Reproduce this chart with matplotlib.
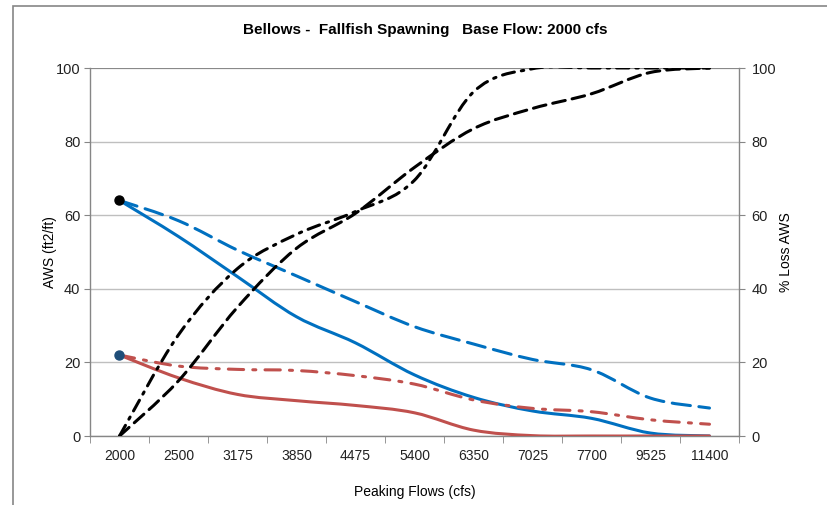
import numpy as np
import matplotlib
matplotlib.use('Agg')
import matplotlib.pyplot as plt
from matplotlib.path import Path
from matplotlib.patches import PathPatch, Rectangle

plt.rcParams['font.family'] = ['Liberation Sans', 'DejaVu Sans']

# %% data
flows = ['2000', '2500', '3175', '3850', '4475', '5400', '6350', '7025', '7700', '9525', '11400']
aws_blue = [64, 54.2, 43.3, 32.4, 25.3, 16.6, 10.5, 6.8, 4.8, 0.8, 0]
aws_blue_dash = [64, 58.5, 50.5, 43.5, 36.5, 29.7, 25, 20.8, 18, 10.3, 7.6]
aws_red = [22, 15.8, 11.3, 9.6, 8.3, 6.3, 1.6, 0.1, 0, 0, 0]
aws_red_dashdot = [22, 19, 18.1, 17.8, 16.4, 14.1, 9.8, 7.5, 6.6, 4.4, 3.2]
loss_dash = [0, 15, 35, 51, 60.5, 73, 83.5, 89, 93, 98.8, 100]
loss_dashdot = [0, 27.5, 45.5, 54.8, 61, 69.5, 93.5, 99.8, 100, 100, 100]


def smooth_path(xs, ys):
    # Excel-like smoothed line: cubic Bezier through the points (Catmull-Rom tangents)
    pts = np.column_stack([xs, ys]).astype(float)
    verts = [pts[0]]
    codes = [Path.MOVETO]
    n = len(pts)
    for i in range(n - 1):
        p0 = pts[i - 1] if i > 0 else pts[i]
        p1 = pts[i]
        p2 = pts[i + 1]
        p3 = pts[i + 2] if i + 2 < n else pts[i + 1]
        c1 = p1 + (p2 - p0) / 6.0
        c2 = p2 - (p3 - p1) / 6.0
        verts += [c1, c2, p2]
        codes += [Path.CURVE4] * 3
    return Path(verts, codes)


def add_line(ax, ys, color, ls, lw=2.2, z=3):
    x = np.arange(len(ys))
    patch = PathPatch(smooth_path(x, ys), facecolor='none', edgecolor=color,
                      linewidth=lw, linestyle=ls, capstyle='round', zorder=z)
    ax.add_patch(patch)


blue = '#0070C0'
red = '#C0504D'
grid_c = '#BFBFBF'
spine_c = '#868686'

fig = plt.figure(figsize=(8.28, 5.05), dpi=100)
fig.patches.append(Rectangle((13 / 828, -0.1), 2, 1.1 - 6 / 505, transform=fig.transFigure,
                             facecolor='none', edgecolor=spine_c, linewidth=1.2))

ax = fig.add_axes([90 / 828, 1 - 436 / 505, 649 / 828, 368 / 505])
ax2 = ax.twinx()

ax.set_xlim(-0.5, len(flows) - 0.5)
ax.set_ylim(0, 100)
ax2.set_ylim(0, 100)
ax.set_yticks(np.arange(0, 101, 20))
ax2.set_yticks(np.arange(0, 101, 20))
ax.set_xticks(np.arange(len(flows)))
ax.set_xticklabels(flows)
ax.set_xticks(np.arange(len(flows) + 1) - 0.5, minor=True)

ax.yaxis.grid(True, color=grid_c, linewidth=1.0)
ax.set_axisbelow(True)
ax.tick_params(axis='x', which='major', length=0, pad=9, labelsize=10, colors='#222222')
ax.tick_params(axis='x', which='minor', length=5, color=spine_c, direction='out')
ax.tick_params(axis='y', length=4, color=spine_c, pad=3, labelsize=10.5, labelcolor='#222222')
ax2.tick_params(axis='y', length=4, color=spine_c, pad=5, labelsize=10.5, labelcolor='#222222')

for a in (ax, ax2):
    a.spines['top'].set_visible(False)
    for s in ('left', 'right', 'bottom'):
        a.spines[s].set_color(spine_c)
        a.spines[s].set_linewidth(1.0)
ax.spines['right'].set_visible(False)
ax2.spines['left'].set_visible(False)
ax2.spines['bottom'].set_visible(False)
# gridline at 100 stands in for the top edge
ax.axhline(100, color='#7F7F7F', linewidth=1.2, zorder=1)

add_line(ax, aws_blue, blue, '-')
add_line(ax, aws_blue_dash, blue, (0, (6.0, 2.8)))
add_line(ax, aws_red, red, '-')
add_line(ax, aws_red_dashdot, red, (0, (5.0, 3.0, 1.0, 3.0)))
add_line(ax2, loss_dash, 'black', (0, (4.2, 2.3)))
add_line(ax2, loss_dashdot, 'black', (0, (4.0, 2.3, 0.8, 2.3)))

ax2.plot([0], [aws_blue[0]], 'o', color='black', markersize=6.5, zorder=5, clip_on=False)
ax2.plot([0], [aws_red[0]], 'o', color='#1F4E79', markersize=6.5, zorder=5, clip_on=False)

ax.set_ylabel('AWS (ft2/ft)', fontsize=10, labelpad=-1)
ax2.set_ylabel('% Loss AWS', fontsize=10, labelpad=2)
ax.set_xlabel('Peaking Flows (cfs)', fontsize=10, labelpad=16)
fig.text(425 / 828, 1 - 30 / 505, 'Bellows -  Fallfish Spawning   Base Flow: 2000 cfs',
         ha='center', va='center', fontsize=11, fontweight='bold')

fig.savefig('out.png', dpi=100)
